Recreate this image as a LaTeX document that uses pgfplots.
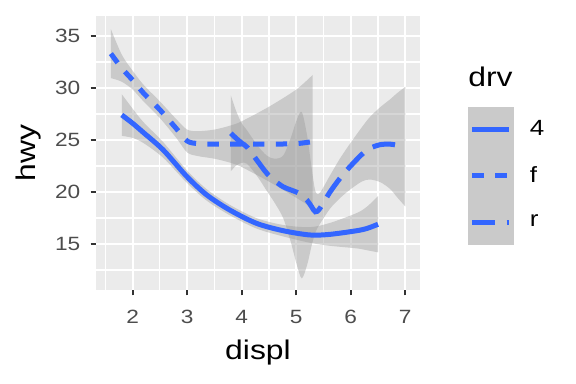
\documentclass[border=0pt]{standalone}
\usepackage{pgfplots}
\pgfplotsset{compat=1.18}
\usepackage{pgfplotstable}
\usepgfplotslibrary{fillbetween}
\usepackage{fontspec}
\setmainfont[FakeStretch=1.18]{Liberation Sans}
\definecolor{panelbg}{HTML}{EBEBEB}
\definecolor{lineblue}{HTML}{3366FF}
\definecolor{ribbon}{HTML}{999999}
\definecolor{tickc}{HTML}{333333}
\definecolor{ticklab}{HTML}{4D4D4D}
\definecolor{keybg}{HTML}{CACACA}

\pgfplotstableread{
x y lo hi
1.8 27.4 25.4 29.4
2.0 26.6 25.2 28.0
2.2 25.7 24.7 26.7
2.56 24.04 23.29 24.79
3.0 21.45 20.85 22.05
3.36 19.71 19.16 20.26
3.78 18.27 17.77 18.77
4.27 16.99 16.49 17.49
4.76 16.28 15.73 16.83
5.25 15.87 15.12 16.62
5.62 15.93 14.83 17.03
6.11 16.28 14.58 17.98
6.3 16.5 14.4 18.6
6.5 16.9 14.2 19.6
}\fourtab

\pgfplotstableread{
x y lo hi
1.6 33.3 30.95 35.65
1.8 31.9 30.6 33.2
2.0 30.75 29.85 31.65
2.2 29.5 28.7 30.3
2.5 27.9 27.1 28.7
2.8 26.1 25.2 27.0
3.0 24.9 23.8 26.0
3.2 24.65 23.45 25.85
3.5 24.6 23.2 26.0
3.8 24.6 22.8 26.4
4.0 24.6 22.4 26.8
4.5 24.6 21.0 28.2
5.0 24.65 19.45 29.85
5.3 24.85 18.45 31.25
}\ftab

\pgfplotstableread{
x y lo hi
3.8 25.65 22.0 29.3
3.9 25.15 22.55 27.75
4.0 24.7 22.8 26.6
4.1 24.3 22.7 25.9
4.3 22.9 21.4 24.4
4.46 21.8 20.1 23.5
4.6 21.1 19.0 23.2
4.76 20.5 17.5 23.5
4.9 20.2 15.2 25.2
5.0 20.0 13.2 26.8
5.1 19.7 11.7 27.7
5.2 19.2 13.0 25.4
5.28 18.6 14.8 22.4
5.35 18.1 16.1 20.1
5.43 18.4 16.9 19.9
5.62 20.0 18.4 21.6
5.8 21.3 19.4 23.2
5.98 22.4 20.2 24.6
6.2 23.6 21.0 26.2
6.35 24.2 21.2 27.2
6.54 24.55 20.95 28.15
6.72 24.6 20.3 28.9
6.85 24.5 19.5 29.5
7.0 24.36 18.61 30.11
}\rtab

\begin{document}
\begin{tikzpicture}
\begin{axis}[
  at={(48bp,47bp)}, anchor=south west,
  width=162bp, height=137bp, scale only axis,
  xmin=1.327, xmax=7.27, ymin=10.58, ymax=36.92,
  axis lines*=left,
  axis line style={draw=none},
  axis background/.style={fill=panelbg},
  xtick={2,3,4,5,6,7}, ytick={15,20,25,30,35},
  minor xtick={1.5,2.5,3.5,4.5,5.5,6.5},
  minor ytick={12.5,17.5,22.5,27.5,32.5},
  grid=both,
  major grid style={white, line width=1.07bp},
  minor grid style={white, line width=0.53bp},
  tick align=outside,
  major tick length=2.74bp, minor tick length=0pt,
  tick style={color=tickc, line width=1.07bp},
  /pgf/number format/assume math mode=true,
  tick label style={font=\fontsize{9.6bp}{10bp}\selectfont, text=ticklab},
  yticklabel style={anchor=east, inner sep=0pt, xshift=-4.9bp},
  xticklabel style={anchor=north, inner sep=0pt, yshift=-7.2bp},
  legend image code/.code={\path[fill=keybg, draw=none, solid, line width=0pt] (0bp,-11.55bp) rectangle (23.15bp,11.55bp); \draw[#1] (2.3bp,0bp) -- (20.8bp,0bp);},
  legend style={at={(1.1472,0.669)}, anchor=north west, draw=none, fill=none, inner sep=0pt, outer sep=0pt, row sep=0pt,
    nodes={inner sep=0pt, outer sep=0pt, anchor=west, font=\fontsize{11bp}{12bp}\selectfont, text=black},
    /tikz/every odd column/.style={column sep=8bp}},
  legend cell align=left,
]
% group 4
\addplot[draw=none, name path=fourlo, smooth, forget plot] table[x=x,y=lo]{\fourtab};
\addplot[draw=none, name path=fourhi, smooth, forget plot] table[x=x,y=hi]{\fourtab};
\addplot[fill=ribbon, fill opacity=0.4, draw=none, forget plot] fill between[of=fourlo and fourhi];
\addplot[lineblue, line width=2.5bp, smooth, forget plot] table[x=x,y=y]{\fourtab};
% group f
\addplot[draw=none, name path=flo, smooth, forget plot] table[x=x,y=lo]{\ftab};
\addplot[draw=none, name path=fhi, smooth, forget plot] table[x=x,y=hi]{\ftab};
\addplot[fill=ribbon, fill opacity=0.4, draw=none, forget plot] fill between[of=flo and fhi];
\addplot[lineblue, line width=2.5bp, smooth, dash pattern=on 5.7bp off 5.7bp, forget plot] table[x=x,y=y]{\ftab};
% group r
\addplot[draw=none, name path=rlo, smooth, forget plot] table[x=x,y=lo]{\rtab};
\addplot[draw=none, name path=rhi, smooth, forget plot] table[x=x,y=hi]{\rtab};
\addplot[fill=ribbon, fill opacity=0.4, draw=none, forget plot] fill between[of=rlo and rhi];
\addplot[lineblue, line width=2.5bp, smooth, dash pattern=on 11.4bp off 5.7bp, forget plot] table[x=x,y=y]{\rtab};
% legend
\addlegendimage{lineblue, line width=2.5bp}
\addlegendimage{lineblue, line width=2.5bp, dash pattern=on 5.8bp off 5.6bp}
\addlegendimage{lineblue, line width=2.5bp, dash pattern=on 11.4bp off 5.8bp}
\legend{4,f,r}
\end{axis}
\node[anchor=base, font=\fontsize{13.5bp}{14bp}\selectfont] at (129bp,12.5bp) {displ};
\node[rotate=90, anchor=center, font=\fontsize{13.5bp}{14bp}\selectfont] at (14.25bp,115.5bp) {hwy};
\node[anchor=base west, inner sep=0pt, font=\fontsize{13.5bp}{14bp}\selectfont] at (234bp,148.65bp) {drv};
\pgfresetboundingbox
\path[use as bounding box] (0,0) rectangle (288bp,192bp);
\end{tikzpicture}
\end{document}
